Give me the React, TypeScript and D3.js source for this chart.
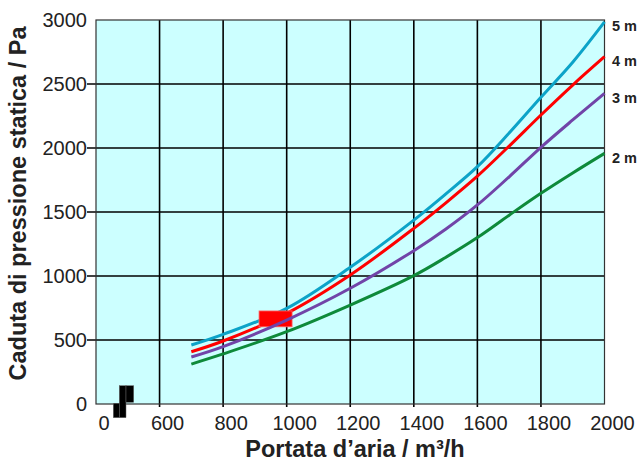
import React from "react";
import * as d3 from "d3";

const flow = [700, 800, 1000, 1200, 1400, 1500, 1600, 1700, 1800, 1900, 2000];
const curve5m = [461, 544, 747, 1068, 1437, 1640, 1854, 2117, 2396, 2670, 2985];
const curve4m = [408, 492, 708, 1008, 1372, 1570, 1780, 2015, 2258, 2492, 2713];
const curve3m = [367, 448, 656, 904, 1198, 1365, 1555, 1775, 2005, 2219, 2427];
const curve2m = [312, 391, 565, 773, 1003, 1145, 1300, 1475, 1646, 1805, 1958];
const seriesNames = ["2 m", "3 m", "4 m", "5 m"];
const seriesColors = ["#0e8a3a", "#7144a8", "#ff0000", "#0ca3c8"];

const xTickValues = [400, 600, 800, 1000, 1200, 1400, 1600, 1800, 2000];
const xTickLabels = ["0", "600", "800", "1000", "1200", "1400", "1600", "1800", "2000"];
const yTickValues = [0, 500, 1000, 1500, 2000, 2500, 3000];

const highlightX = [913, 1017];
const highlightY = [603, 727];

export default function App() {
  const W = 639, H = 461;
  const left = 96, right = 604.5, top = 20, bottom = 404;
  const x = d3.scaleLinear().domain([400, 2000]).range([left, right]);
  const y = d3.scaleLinear().domain([0, 3000]).range([bottom, top]);
  const line = d3
    .line<[number, number]>()
    .x((d) => x(d[0]))
    .y((d) => y(d[1]))
    .curve(d3.curveCatmullRom.alpha(0.5));
  const allSeries = [curve2m, curve3m, curve4m, curve5m];
  const pathOf = (vals: number[]) => line(flow.map((f, i) => [f, vals[i]] as [number, number])) || "";
  const font = "'Liberation Sans', Arial, sans-serif";

  const drawOrder = [3, 2];
  const afterRect = [1, 0];

  return (
    <div>
      <style>{`body{margin:0}`}</style>
      <svg width={W} height={H} style={{ display: "block", fontFamily: font }}>
        <rect x={0} y={0} width={W} height={H} fill="#ffffff" />
        <rect x={left} y={top} width={right - left} height={bottom - top} fill="#ccffff" />
        {xTickValues.slice(1, -1).map((v) => (
          <line key={"gx" + v} x1={x(v)} x2={x(v)} y1={top} y2={bottom + 3} stroke="#000" strokeWidth={1.6} />
        ))}
        {yTickValues.slice(1, -1).map((v) => (
          <line key={"gy" + v} x1={left - 9} x2={right} y1={y(v)} y2={y(v)} stroke="#000" strokeWidth={1.6} />
        ))}
        <rect x={left} y={top} width={right - left} height={bottom - top} fill="none" stroke="#333" strokeWidth={1.2} />
        {yTickValues.map((v) => (
          <text key={"ty" + v} x={left - 9} y={y(v)} dy="0.36em" textAnchor="end" fontSize={20} fill="#222">
            {v}
          </text>
        ))}
        {xTickValues.map((v, i) => (
          <text key={"tx" + v} x={x(v) + 8} y={430} textAnchor="middle" fontSize={20} fill="#222">
            {xTickLabels[i]}
          </text>
        ))}
        {drawOrder.map((i) => (
          <path key={"s" + i} d={pathOf(allSeries[i])} fill="none" stroke={seriesColors[i]} strokeWidth={3} />
        ))}
        <rect
          x={x(highlightX[0])}
          y={y(highlightY[1])}
          width={x(highlightX[1]) - x(highlightX[0])}
          height={y(highlightY[0]) - y(highlightY[1])}
          fill="#ff0000"
          stroke="#ff6a6a"
          strokeWidth={0.8}
        />
        {afterRect.map((i) => (
          <path key={"s" + i} d={pathOf(allSeries[i])} fill="none" stroke={seriesColors[i]} strokeWidth={3} />
        ))}
        {/* axis break marks */}
        <rect x={113.3} y={403.3} width={6} height={14.4} fill="#000" stroke="#666" strokeWidth={0.5} />
        <rect x={119.3} y={385.7} width={6.7} height={32} fill="#000" stroke="#666" strokeWidth={0.5} />
        <rect x={126} y={385.7} width={7.7} height={16.6} fill="#000" stroke="#666" strokeWidth={0.5} />
        {allSeries.map((s, i) => (
          <text
            key={"lbl" + i}
            x={612}
            y={y(s[s.length - 1]) + 4}
            dy="0.36em"
            fontSize={14.5}
            fontWeight="bold"
            fill="#222"
          >
            {seriesNames[i]}
          </text>
        ))}
        <text x={355} y={457} textAnchor="middle" fontSize={23.5} fontWeight="bold" fill="#222">
          Portata d’aria / m³/h
        </text>
        <text
          transform={`translate(26, 203.5) rotate(-90)`}
          textAnchor="middle"
          fontSize={23.5}
          fontWeight="bold"
          fill="#222"
        >
          Caduta di pressione statica / Pa
        </text>
      </svg>
    </div>
  );
}
